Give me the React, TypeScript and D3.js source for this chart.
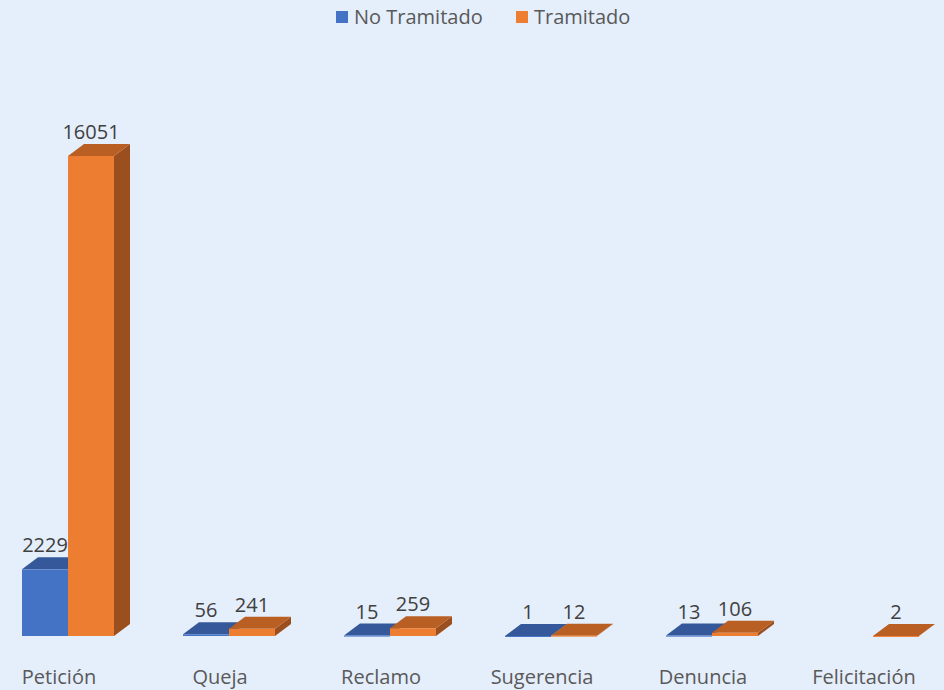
import React, { useRef, useEffect } from 'react';
import * as d3 from 'd3';

const categories = ['Petición', 'Queja', 'Reclamo', 'Sugerencia', 'Denuncia', 'Felicitación'];
const series = ['No Tramitado', 'Tramitado'];
const noTramitado = [2229, 56, 15, 1, 13, null];
const tramitado = [16051, 241, 259, 12, 106, 2];

const colors = {
  'No Tramitado': { front: '#4472C4', top: '#34589A', side: '#2E4F8A' },
  'Tramitado': { front: '#ED7D31', top: '#B95F23', side: '#9C4F1E' },
};

function App() {
  const canvas = useRef(null);

  useEffect(() => {
    const width = 944;
    const height = 690;
    const dx = 16; // profundidad 3d
    const dy = 12;

    d3.select(canvas.current).select('svg').remove();

    const svg = d3
      .select(canvas.current)
      .append('svg')
      .attr('width', width)
      .attr('height', height)
      .style('position', 'absolute')
      .style('left', 0)
      .style('top', 0)
      .style('font-family', '"Open Sans", "Noto Sans", sans-serif');

    svg.append('rect').attr('width', width).attr('height', height).attr('fill', '#E5EEFB');

    const x = d3.scaleBand().domain(categories).range([-12.5, 953.5]).padding(0);
    const inner = d3.scaleBand().domain(series).range([0, 92]);
    const y = d3.scaleLinear().domain([0, 16051]).range([636, 156]);

    const data = categories.flatMap((c, i) => [
      { cat: c, s: 'No Tramitado', v: noTramitado[i] },
      { cat: c, s: 'Tramitado', v: tramitado[i] },
    ]).filter(d => d.v != null);

    const g = svg.append('g');
    const bw = inner.bandwidth();

    data.forEach(d => {
      const x0 = x(d.cat) + x.bandwidth() / 2 - 46 + inner(d.s);
      const y0 = y(d.v);
      const y1 = y(0);
      const c = colors[d.s];
      const bar = g.append('g');
      // cara lateral
      bar.append('path')
        .attr('d', `M${x0 + bw},${y1} L${x0 + bw + dx},${y1 - dy} L${x0 + bw + dx},${y0 - dy} L${x0 + bw},${y0} Z`)
        .attr('fill', c.side);
      // cara superior
      bar.append('path')
        .attr('d', `M${x0},${y0} L${x0 + dx},${y0 - dy} L${x0 + bw + dx},${y0 - dy} L${x0 + bw},${y0} Z`)
        .attr('fill', c.top);
      // frente
      bar.append('rect')
        .attr('x', x0)
        .attr('y', y0)
        .attr('width', bw)
        .attr('height', Math.max(y1 - y0, 1))
        .attr('fill', c.front);

      g.append('text')
        .attr('x', x0 + bw / 2)
        .attr('y', y0 - 17)
        .attr('text-anchor', 'middle')
        .attr('fill', '#404040')
        .style('font-size', '20px')
        .text(d.v);
    });

    // etiquetas de categoria
    svg.append('g')
      .selectAll('text')
      .data(categories)
      .enter()
      .append('text')
      .attr('x', d => x(d) + x.bandwidth() / 2 - 9)
      .attr('y', 684)
      .attr('text-anchor', 'middle')
      .attr('fill', '#595959')
      .style('font-size', '20px')
      .text(d => d);

    // leyenda
    const legend = svg.append('g');
    const lx = [336, 516];
    series.forEach((s, i) => {
      legend.append('rect')
        .attr('x', lx[i])
        .attr('y', 11)
        .attr('width', 12)
        .attr('height', 12)
        .attr('fill', colors[s].front);
      legend.append('text')
        .attr('x', lx[i] + 18)
        .attr('y', 24)
        .attr('fill', '#595959')
        .style('font-size', '20px')
        .text(s);
    });
  }, []);

  return <div ref={canvas}></div>;
}

export default App;
